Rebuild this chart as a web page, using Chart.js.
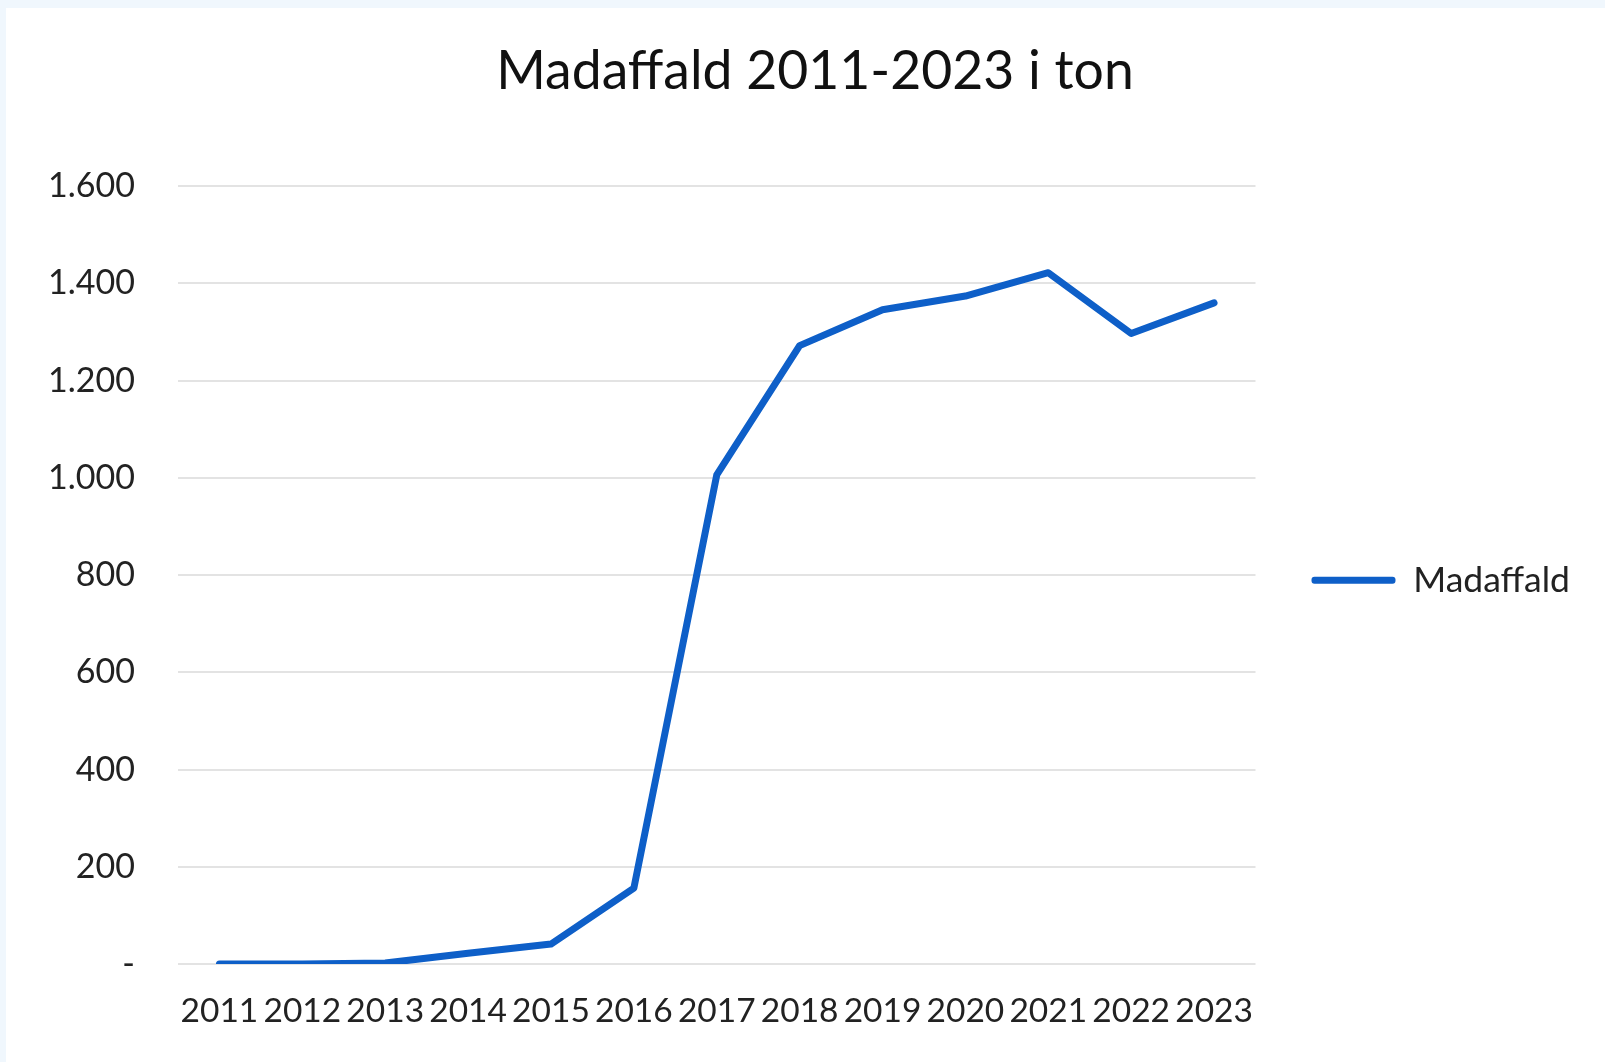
<!DOCTYPE html>
<html>
<head>
<meta charset="utf-8">
<script src="https://cdn.jsdelivr.net/npm/chart.js@4"></script>
<style>
    html, body { margin: 0; padding: 0; background: #F0F7FD; }
    #box { position: absolute; left: 6px; top: 8px; width: 1599px; height: 1054px; background: #fff; }
</style>
</head>
<body>
<div id="box"><canvas id="myChart"></canvas></div>
<script>
let ctx = document.getElementById('myChart');

// data (ton)
let years = ['2011', '2012', '2013', '2014', '2015', '2016', '2017', '2018', '2019', '2020', '2021', '2022', '2023'];
let madaffald = [0, 0, 2, 22, 41, 156, 1006, 1272, 1346, 1374, 1422, 1297, 1360];
let yTicks = [0, 200, 400, 600, 800, 1000, 1200, 1400, 1600];

let blue = '#0E5FC8';
let fontName = 'Lato';

function fmt(v) {
    if (v == 0) return '-';
    return v.toString().replace(/\B(?=(\d{3})+(?!\d))/g, '.');
}

function setChart(labels, data) {
    return {
        type: 'line',
        data: {
            labels: labels,
            datasets: [{
                label: 'Madaffald',
                data: data,
                borderColor: blue,
                backgroundColor: blue,
                borderWidth: 7,
                pointRadius: 0,
                tension: 0,
                borderJoinStyle: 'round',
                borderCapStyle: 'round'
            }]
        },
        options: {
            responsive: true,
            maintainAspectRatio: false,
            animation: false,
            devicePixelRatio: 1,
            layout: { autoPadding: false, padding: { left: 44, right: 25, top: 0, bottom: 0 } },
            plugins: {
                title: {
                    display: true,
                    text: 'Madaffald 2011-2023 i ton',
                    color: '#111',
                    font: { family: fontName, size: 53.5, weight: 'normal' },
                    padding: { top: 32, bottom: 82 }
                },
                legend: {
                    position: 'right',
                    fullSize: false,
                    maxWidth: 400,
                    title: { display: true, text: '', padding: 0, font: { size: 8.5 } },
                    labels: {
                        color: '#222',
                        font: { family: fontName, size: 35.5 },
                        boxWidth: 84,
                        boxHeight: 7,
                        padding: 10,
                        useBorderRadius: true,
                        borderRadius: 3,
                        generateLabels: function (chart) {
                            return Chart.defaults.plugins.legend.labels.generateLabels(chart).map(l => {
                                l.lineWidth = 0;
                                l.fillStyle = blue;
                                return l;
                            });
                        }
                    }
                },
                tooltip: { enabled: false }
            },
            scales: {
                x: {
                    offset: true,
                    grid: { display: false, drawTicks: false },
                    border: { display: false },
                    ticks: {
                        color: '#222',
                        font: { family: fontName, size: 33.5 },
                        padding: 27,
                        maxRotation: 0,
                        autoSkip: false
                    },
                    afterFit: function (s) { s.height = 98; }
                },
                y: {
                    min: 0,
                    max: 1600,
                    afterBuildTicks: function (s) { s.ticks = yTicks.map(v => ({ value: v })); },
                    grid: { color: '#E3E3E3', lineWidth: 2, drawTicks: false },
                    border: { display: false },
                    ticks: {
                        color: '#222',
                        font: { family: fontName, size: 34 },
                        padding: 43,
                        callback: function (v) { return fmt(v); }
                    },
                    afterFit: function (s) { s.width = 128; }
                },
                y2: {
                    position: 'right',
                    display: true,
                    grid: { display: false, drawTicks: false },
                    border: { display: false },
                    ticks: { display: false },
                    afterFit: function (s) { s.width = 46; }
                }
            }
        }
    };
}

let c = new Chart(ctx, setChart(years, madaffald));
</script>
</body>
</html>
